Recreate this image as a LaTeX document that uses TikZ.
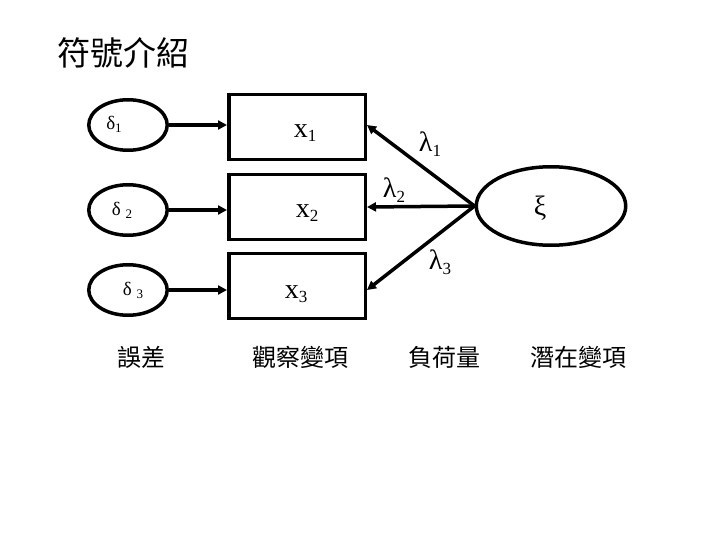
\documentclass[tikz,border=0pt]{standalone}
\usepackage{fontspec}
\setmainfont{Liberation Serif}
\newfontfamily\cjk{Noto Sans CJK TC}
\usetikzlibrary{shapes.geometric,arrows.meta}
\newcommand{\lowidx}[2][17]{\raisebox{-0.35ex}{\fontsize{#1}{#1}\selectfont #2}}

\begin{document}
\begin{tikzpicture}[x=1pt,y=-1pt,
  errell/.style={draw,ellipse,line width=3.5pt,minimum width=78.5pt,minimum height=50.5pt,inner sep=0pt},
  obsbox/.style={draw,rectangle,line width=3.5pt,minimum width=136.5pt,minimum height=65pt,inner sep=0pt},
  link/.style={line width=3.5pt,-{Triangle[length=9pt,width=9pt]}},
  lbl/.style={font=\fontsize{28}{30}\selectfont},
  dlbl/.style={font=\fontsize{19}{20}\selectfont},
  captxt/.style={font=\cjk\fontsize{24}{26}\selectfont}]
  \useasboundingbox (0,0) rectangle (720,540);
  % title
  \node[font=\cjk\fontsize{33}{36}\selectfont] (title) at (123,53) {符號介紹};
  % errors
  \node[errell] (d1) at (128,125) {};
  \node[errell] (d2) at (128,210) {};
  \node[errell] (d3) at (128,290) {};
  \node[dlbl] (d1t) at (114,124) {δ\lowidx[13]{1}};
  \node[dlbl] (d2t) at (122,210) {δ \lowidx[13]{2}};
  \node[dlbl] (d3t) at (133,290) {δ \lowidx[13]{3}};
  % observed
  \node[obsbox] (x1) at (297,127) {};
  \node[obsbox] (x2) at (297,207) {};
  \node[obsbox] (x3) at (297,286) {};
  \node[lbl] (x1t) at (305,133) {x\lowidx{1}};
  \node[lbl] (x2t) at (307,213) {x\lowidx{2}};
  \node[lbl] (x3t) at (296,294) {x\lowidx{3}};
  % latent
  \node[draw,ellipse,line width=3.5pt,minimum width=149.5pt,minimum height=78.5pt,inner sep=0pt] (xi) at (551,206) {};
  \node[lbl] (xit) at (540,208) {ξ};
  \foreach \i in {1,2,3}
    \draw[link] (d\i.east) -- (d\i.east -| x\i.west);
  \draw[link] (xi.west) -- ([yshift=2pt]x1.east);
  \draw[link] (xi.west) -- (x2.east);
  \draw[link] (xi.west) -- ([yshift=-4pt]x3.east);
  \node[lbl] (l1) at (430,144) {λ\lowidx{1}};
  \node[lbl] (l2) at (394,190) {λ\lowidx{2}};
  \node[lbl] (l3) at (440,262) {λ\lowidx{3}};
  % captions
  \node[captxt] (c1) at (141,357) {誤差};
  \node[captxt] (c2) at (300,357) {觀察變項};
  \node[captxt] (c3) at (444,357) {負荷量};
  \node[captxt] (c4) at (578,357) {潛在變項};
\end{tikzpicture}
\end{document}
